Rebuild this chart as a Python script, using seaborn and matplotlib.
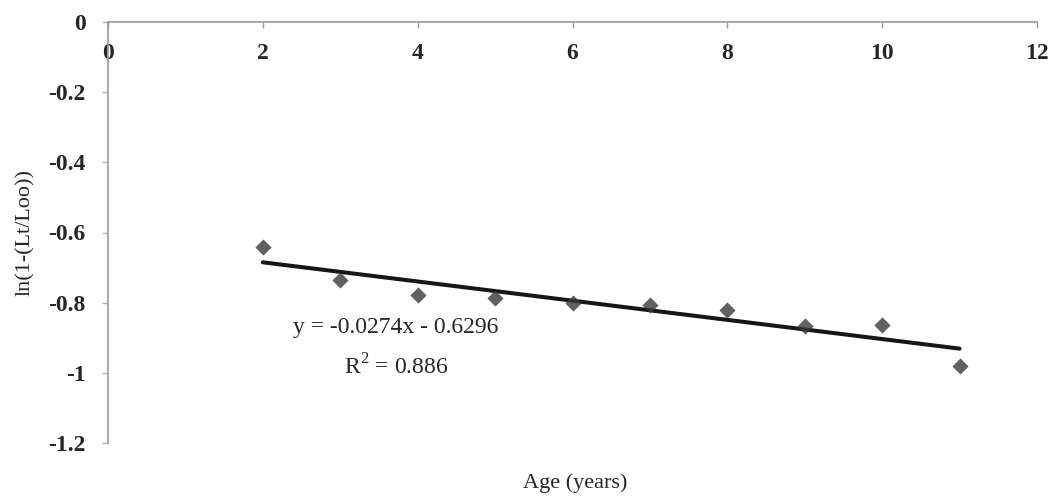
import matplotlib
matplotlib.use("Agg")
import numpy as np
import pandas as pd
import seaborn as sns
from matplotlib import pyplot as plt
from matplotlib.ticker import FuncFormatter

# values
age_years = [2, 3, 4, 5, 6, 7, 8, 9, 10, 11]
ln_ratio = [-0.640, -0.736, -0.777, -0.787, -0.802, -0.807, -0.820, -0.866, -0.865, -0.980]
x_ticks = [0, 2, 4, 6, 8, 10, 12]
y_ticks = [0, -0.2, -0.4, -0.6, -0.8, -1.0, -1.2]
equation_text = "y = -0.0274x - 0.6296"
r2_text = "R$^2$ = 0.886"

df = pd.DataFrame({"age": age_years, "ln_ratio": ln_ratio})

sns.set_style("ticks")
plt.rcParams["font.family"] = ["Liberation Serif", "DejaVu Serif"]
plt.rcParams["mathtext.fontset"] = "custom"
plt.rcParams["mathtext.rm"] = "Liberation Serif"

fig = plt.figure(figsize=(10.63, 5.0), dpi=100)
ax = fig.add_axes([108 / 1063, 1 - 443 / 500, 929 / 1063, 421 / 500])

sns.regplot(
    data=df,
    x="age",
    y="ln_ratio",
    ci=None,
    marker="D",
    scatter_kws={"s": 68, "color": "#3a3a3a", "zorder": 3, "linewidths": 0},
    line_kws={"color": "#161616", "lw": 2.9, "zorder": 2},
    ax=ax,
)

ax.set_xlim(0, 12)
ax.set_ylim(-1.2, 0)
ax.set_xticks(x_ticks)
ax.set_yticks(y_ticks)
ax.yaxis.set_major_formatter(FuncFormatter(lambda v, _: f"{v:g}"))

# x axis drawn along y = 0 at the top, labels hanging below it
ax.spines["bottom"].set_position(("data", 0))
ax.spines["top"].set_visible(False)
ax.spines["right"].set_visible(False)
for side in ["bottom", "left"]:
    ax.spines[side].set_color("#9a9a9a")
    ax.spines[side].set_linewidth(1.2)

ax.tick_params(axis="x", direction="out", length=4, width=1, color="#9a9a9a", pad=11, labelsize=17)
ax.tick_params(axis="y", direction="out", length=4, width=1, color="#b0b0b0", pad=12, labelsize=17)
for lbl in ax.get_xticklabels() + ax.get_yticklabels():
    lbl.set_fontweight("bold")

ax.set_xlabel("Age (years)", fontsize=16)
ax.set_ylabel("ln(1-(Lt/Loo))", fontsize=16)
ax.xaxis.set_label_coords(0.503, -0.072)
ax.yaxis.set_label_coords(-0.078, 0.5)

ax.text(3.72, -0.872, equation_text, fontsize=17, ha="center", va="center")
ax.text(3.72, -0.983, r2_text, fontsize=17, ha="center", va="center")

fig.savefig("out.png", dpi=100)
